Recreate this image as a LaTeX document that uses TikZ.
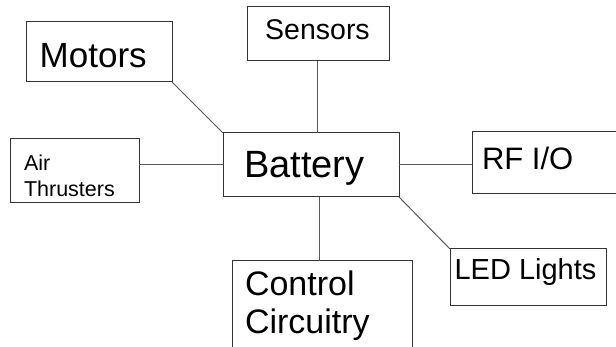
\documentclass[tikz,border=0pt]{standalone}
\usepackage{fontspec}
\setmainfont{Liberation Sans}
\begin{document}
\begin{tikzpicture}[x=1pt,y=-1pt,
  box/.style={draw=black!80,line width=1pt,rectangle,inner sep=0pt,outer sep=0pt},
  lbl/.style={anchor=base west,inner sep=0pt,outer sep=0pt,align=left,text=black},
  wire/.style={draw=black!65,line width=1pt}]
\useasboundingbox (0,0) rectangle (616,347);
\clip (0,0) rectangle (616,347);
\fill[white] (0,0) rectangle (616,347);
% boxes
\node[box,minimum width=146pt,minimum height=60pt] (motors) at (99,52) {};
\node[box,minimum width=142pt,minimum height=54pt] (sensors) at (318,34) {};
\node[box,minimum width=129pt,minimum height=64pt] (air) at (74.5,171) {};
\node[box,minimum width=176pt,minimum height=64pt] (battery) at (311,165) {};
\node[box,minimum width=153pt,minimum height=62pt] (rf) at (548.5,163) {};
\node[box,minimum width=156pt,minimum height=57pt] (led) at (528,277.5) {};
\node[box,minimum width=180pt,minimum height=99pt] (control) at (322,310.5) {};
% texts (multi-line texts are anchored at their last baseline)
\node[lbl,font=\fontsize{35}{40}\selectfont] (tmotors) at (39.7,67.7) {Motors};
\node[lbl,font=\fontsize{28.5}{33}\selectfont] (tsensors) at (265.2,40) {Sensors};
\node[lbl,font=\fontsize{21.5}{25.7}\selectfont] (tair) at (24,196.7) {Air\\Thrusters};
\node[lbl,font=\fontsize{38}{44}\selectfont] (tbattery) at (244,177.7) {Battery};
\node[lbl,font=\fontsize{31}{36}\selectfont] (trf) at (482,170) {RF I/O};
\node[lbl,font=\fontsize{29}{34}\selectfont] (tled) at (454.6,280) {LED Lights};
\node[lbl,font=\fontsize{34}{37.6}\selectfont] (tcontrol) at (245,333.3) {Control\\Circuitry};
% connectors
\draw[wire] (motors.south east) -- (battery.north west);
\draw[wire] ([xshift=-1pt]sensors.south) -- ([xshift=-1pt]sensors.south |- battery.north);
\draw[wire] (air.east |- battery.west) -- (battery.west);
\draw[wire] (battery.east) -- (rf.west |- battery.east);
\draw[wire] ([xshift=-3pt]control.north) -- ([xshift=-3pt]control.north |- battery.south);
\draw[wire] (battery.south east) -- (led.north west);
\end{tikzpicture}
\end{document}
